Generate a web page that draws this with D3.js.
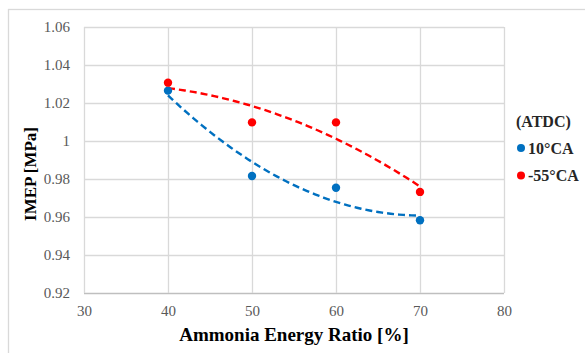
<!DOCTYPE html>
<html>
<head>
<meta charset="utf-8">
<script src="https://cdn.jsdelivr.net/npm/d3@7"></script>
<style>
body{margin:0;background:#fff;}
svg{display:block;}
</style>
</head>
<body>
<div id="content"></div>
<script>
// data
var aer=[40,50,60,70];
var imep_10ca=[1.0265,0.9816,0.9754,0.9583];
var imep_55ca=[1.0307,1.0098,1.0098,0.9732];
var series_names=['10°CA','-55°CA'];
var legend_title='(ATDC)';
var x_ticks=[30,40,50,60,70,80];
var y_ticks=[0.92,0.94,0.96,0.98,1.00,1.02,1.04,1.06];
var x_label='Ammonia Energy Ratio [%]';
var y_label='IMEP [MPa]';

var svg_width=585;
var svg_height=353;
var margin={top:27,left:84,right:81,bottom:60};
var chart_width=svg_width-margin.left-margin.right;
var chart_height=svg_height-margin.top-margin.bottom;
var blue='#0070c0';
var red='#ff0000';
var grid_color='#d9d9d9';
var serif='"Liberation Serif", "Times New Roman", serif';

//least squares 2nd order polynomial fit, like the excel trendline
function polyFit2(xs,ys){
	var n=xs.length,s1=0,s2=0,s3=0,s4=0,t0=0,t1=0,t2=0;
	for(var i=0;i<n;i++){
		var x=xs[i],y=ys[i];
		s1+=x;s2+=x*x;s3+=x*x*x;s4+=x*x*x*x;
		t0+=y;t1+=x*y;t2+=x*x*y;
	}
	//solve 3x3 with cramer
	var m=[[n,s1,s2],[s1,s2,s3],[s2,s3,s4]];
	var r=[t0,t1,t2];
	function det(a){
		return a[0][0]*(a[1][1]*a[2][2]-a[1][2]*a[2][1])
			-a[0][1]*(a[1][0]*a[2][2]-a[1][2]*a[2][0])
			+a[0][2]*(a[1][0]*a[2][1]-a[1][1]*a[2][0]);
	}
	var D=det(m),coef=[];
	for(var c=0;c<3;c++){
		var mc=m.map(function(row,k){var rr=row.slice();rr[c]=r[k];return rr;});
		coef.push(det(mc)/D);
	}
	return function(x){return coef[0]+coef[1]*x+coef[2]*x*x;};
}

var svg=d3.select('#content').append('svg')
	.attr('width',svg_width).attr('height',svg_height);

//chart border
svg.append('rect')
	.attr('x',8.5).attr('y',9.5)
	.attr('width',600).attr('height',400)
	.attr('fill','none').attr('stroke',grid_color).attr('stroke-width',1.3);

var xScale=d3.scaleLinear().domain([30,80]).range([0,chart_width]);
var yScale=d3.scaleLinear().domain([0.92,1.06]).range([chart_height,0]);

var g=svg.append('g').attr('transform','translate('+margin.left+','+margin.top+')');

//grid
g.selectAll('.hgrid').data(y_ticks).enter().append('line')
	.attr('x1',0).attr('x2',chart_width)
	.attr('y1',function(d){return Math.round(yScale(d))+0.5;})
	.attr('y2',function(d){return Math.round(yScale(d))+0.5;})
	.attr('stroke',function(d){return d===0.92?'#bfbfbf':grid_color;})
	.attr('stroke-width',1.3);
g.selectAll('.vgrid').data(x_ticks).enter().append('line')
	.attr('y1',0).attr('y2',chart_height)
	.attr('x1',function(d){return Math.round(xScale(d))+0.5;})
	.attr('x2',function(d){return Math.round(xScale(d))+0.5;})
	.attr('stroke',grid_color).attr('stroke-width',1.3);

//axes (labels only)
var xAxis=g.append('g').attr('transform','translate(0,'+chart_height+')')
	.call(d3.axisBottom(xScale).tickValues(x_ticks).tickSize(0).tickPadding(12));
var yAxis=g.append('g')
	.call(d3.axisLeft(yScale).tickValues(y_ticks).tickSize(0).tickPadding(14)
		.tickFormat(function(d){return d===1?'1':d3.format('.2f')(d);}));
[xAxis,yAxis].forEach(function(a){
	a.select('.domain').remove();
	a.attr('font-family',serif).attr('font-size',15);
	a.selectAll('text').style('font-family',serif).style('font-size','15px').attr('fill','#595959');
});

//trendlines
var series=[{name:series_names[0],vals:imep_10ca,color:blue},{name:series_names[1],vals:imep_55ca,color:red}];
var line=d3.line().x(function(d){return xScale(d[0]);}).y(function(d){return yScale(d[1]);});
series.forEach(function(s){
	var f=polyFit2(aer,s.vals);
	var xs=d3.range(d3.min(aer),d3.max(aer)+0.01,0.5);
	g.append('path')
		.datum(xs.map(function(x){return [x,f(x)];}))
		.attr('d',line)
		.attr('fill','none')
		.attr('stroke',s.color)
		.attr('stroke-width',2.4)
		.attr('stroke-dasharray','7,4');
});

//points
series.forEach(function(s){
	g.selectAll(null).data(aer).enter().append('circle')
		.attr('cx',function(d){return xScale(d);})
		.attr('cy',function(d,i){return yScale(s.vals[i]);})
		.attr('r',4.2)
		.attr('fill',s.color);
});

//axis titles
svg.append('text')
	.attr('x',margin.left+chart_width/2).attr('y',341)
	.attr('text-anchor','middle')
	.style('font-family',serif).style('font-weight','bold').style('font-size','19px')
	.attr('fill','#000')
	.text(x_label);
svg.append('text')
	.attr('transform','translate(36,174) rotate(-90)')
	.attr('text-anchor','middle')
	.style('font-family',serif).style('font-weight','bold').style('font-size','17px')
	.attr('fill','#000')
	.text(y_label);

//legend
function legendText(sel){
	return sel.style('font-family',serif).style('font-weight','bold').style('font-size','16px').attr('fill','#262626');
}
legendText(svg.append('text').attr('x',516).attr('y',127).text(legend_title));
var leg=svg.selectAll('.leg').data(series).enter().append('g')
	.attr('transform',function(d,i){return 'translate(521,'+(148+i*27.5)+')';});
leg.append('circle').attr('r',4).attr('fill',function(d){return d.color;});
legendText(leg.append('text').attr('x',7).attr('y',5.5).text(function(d){return d.name;}));
</script>
</body>
</html>
